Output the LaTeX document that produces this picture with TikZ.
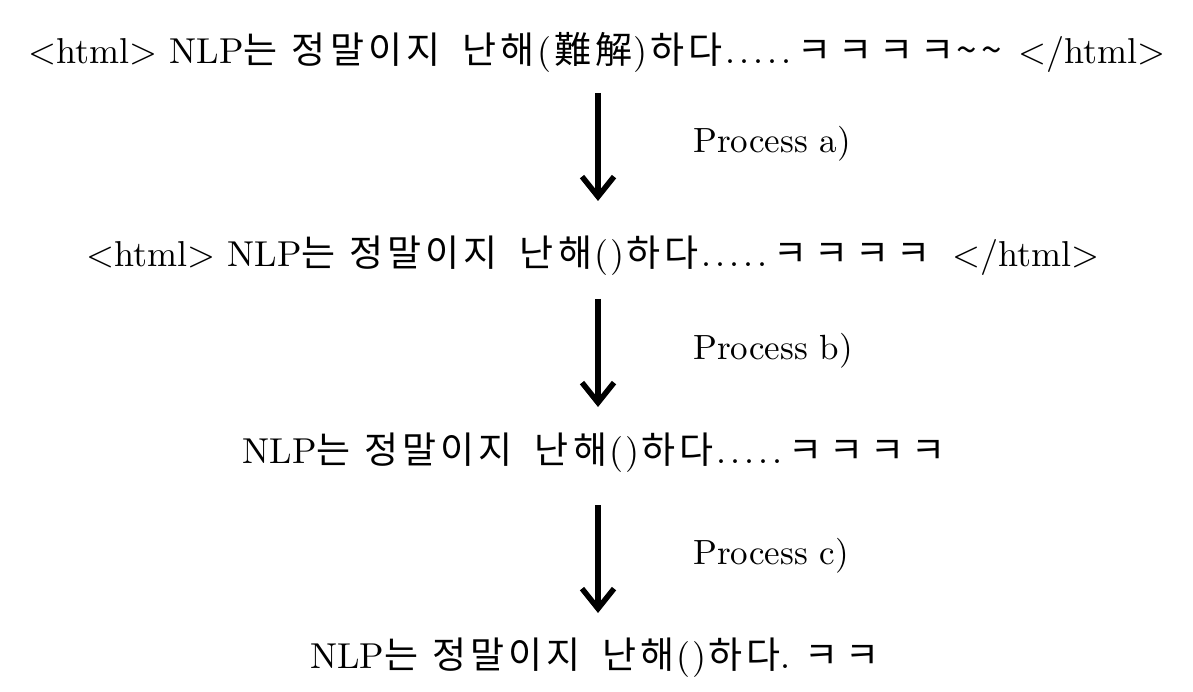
\documentclass[tikz,border=0pt]{standalone}
\usepackage{fontspec}
\setmainfont{lmroman10-regular}[Extension=.otf]
\newfontfamily\kofont[LetterSpace=11]{Noto Sans CJK KR}
\usetikzlibrary{arrows.meta}
\newcommand\ko[1]{{\fontsize{37}{44}\kofont #1}}
\newcommand\kkk{\ko{ㅋ\kern7ptㅋ\kern7ptㅋ\kern7ptㅋ}}
\newcommand\fivedots{\kern3pt.\kern4pt.\kern4pt.\kern4pt.\kern4pt.\kern6pt}
\newcommand\gapa{\hspace{14pt}}
\newcommand\gapb{\hspace{22pt}}
\begin{document}
\begin{tikzpicture}[x=1pt,y=-1pt,
  txtline/.style={font=\fontsize{36}{43}\selectfont, anchor=base, inner sep=0pt},
  lbl/.style={font=\fontsize{35}{42}\selectfont, anchor=base west, inner sep=0pt},
  flow/.style={line width=5.5pt, -{Straight Barb[length=20pt,width=32pt,line width=5.5pt]}}]
\useasboundingbox (0,0) rectangle (1193,692);
\node[txtline] (l1) at (597,64) {<html> NLP\ko{는}\gapa\ko{정말이지}\gapb\ko{난해}\kern3pt(\kern3pt\ko{難解}\kern1pt)\kern3pt\ko{하다}\fivedots\kkk\kern2pt\ko{\textasciitilde\textasciitilde}\kern4pt\ </html>};
\node[txtline] (l2) at (593,267) {<html> NLP\ko{는}\gapa\ko{정말이지}\gapb\ko{난해}\kern2pt(\kern2pt)\kern2pt\ko{하다}\fivedots\kkk\hspace{22pt}</html>};
\node[txtline] (l3) at (594,463) {NLP\ko{는}\gapa\ko{정말이지}\gapb\ko{난해}\kern2pt(\kern2pt)\kern2pt\ko{하다}\fivedots\kkk};
\node[txtline] (l4) at (595,668) {NLP\ko{는}\gapa\ko{정말이지}\gapb\ko{난해}\kern2pt(\kern2pt)\kern2pt\ko{하다}.\hspace{14pt}\ko{ㅋ\kern7ptㅋ}};
\coordinate (a1) at (598,93);
\coordinate (a2) at (598,299);
\coordinate (a3) at (598,505);
\draw[flow] (a1) -- ++(0,108);
\draw[flow] (a2) -- ++(0,108);
\draw[flow] (a3) -- ++(0,108);
\node[lbl] (pa) at (693,153) {Process a)};
\node[lbl] (pb) at (693,359) {Process b)};
\node[lbl] (pc) at (693,564) {Process c)};
\end{tikzpicture}
\end{document}
